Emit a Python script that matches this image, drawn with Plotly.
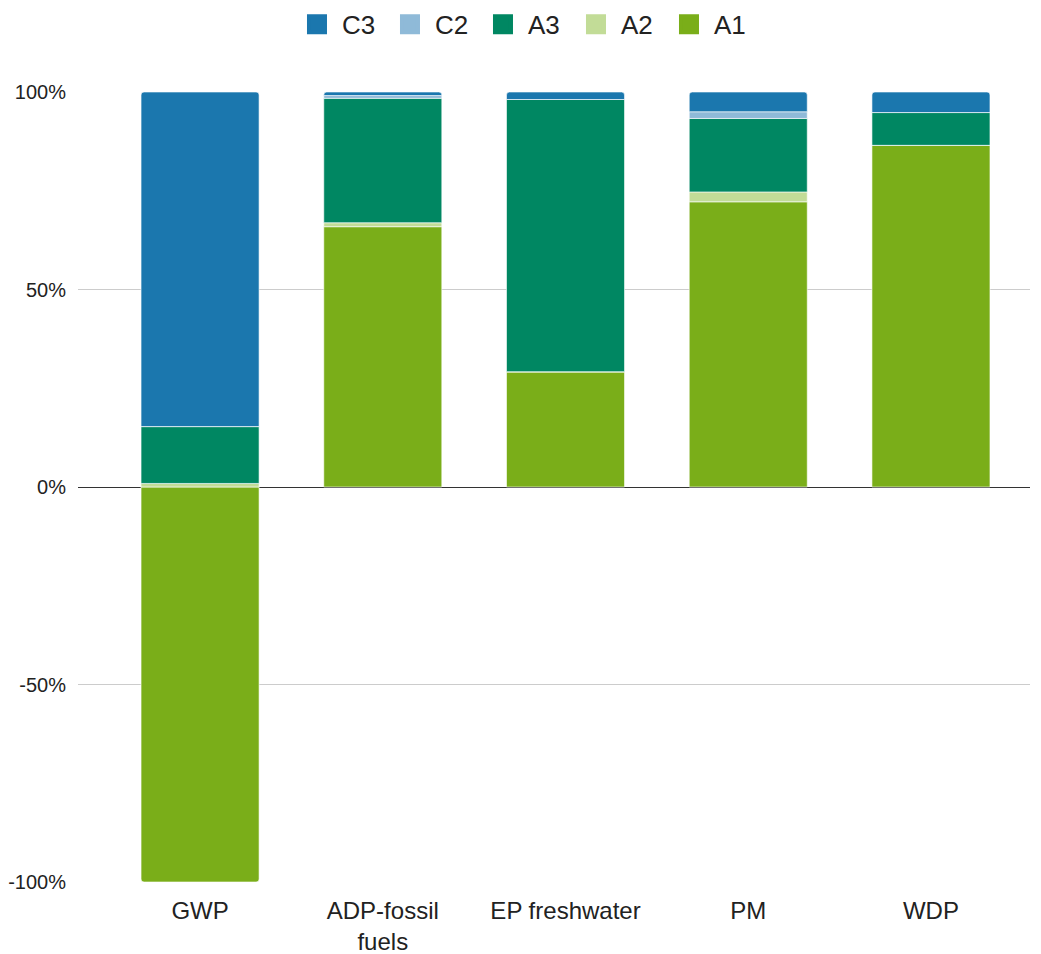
import plotly.graph_objects as go

categories = ["GWP", "ADP-fossil<br>fuels", "EP freshwater", "PM", "WDP"]

# Share of each life-cycle stage per impact category (%)
a1 = [-100.0, 65.9, 29.1, 72.2, 86.5]
a2 = [0.9, 1.0, 0.1, 2.5, 0.0]
a3 = [14.4, 31.5, 68.9, 18.6, 8.3]
c2 = [0.0, 0.7, 0.0, 1.7, 0.0]
c3 = [84.7, 0.9, 1.9, 5.0, 5.2]

series = [
    ("A1", a1, "#7aae19"),
    ("A2", a2, "#c2dc97"),
    ("A3", a3, "#008762"),
    ("C2", c2, "#8fbad8"),
    ("C3", c3, "#1b77ae"),
]

small_font = dict(family="Liberation Sans, Arial, sans-serif", size=20, color="#222222")
cat_font = dict(family="Liberation Sans, Arial, sans-serif", size=24, color="#222222")
legend_font = dict(family="Liberation Sans, Arial, sans-serif", size=26, color="#222222")

fig = go.Figure()
for name, vals, color in series:
    fig.add_trace(go.Bar(
        x=categories,
        y=vals,
        name=name,
        showlegend=False,
        marker=dict(color=color, line=dict(color="rgba(255,255,255,0.6)", width=1)),
        width=0.646,
        hovertemplate="%{x}: %{y:.1f}%<extra>" + name + "</extra>",
    ))

# Legend entries with larger square swatches
for name, vals, color in series:
    fig.add_trace(go.Scatter(
        x=[None],
        y=[None],
        mode="markers",
        name=name,
        marker=dict(symbol="square", size=16, color=color, line=dict(color=color, width=4)),
        showlegend=True,
        hoverinfo="skip",
    ))

fig.update_layout(
    barmode="relative",
    barcornerradius=3,
    width=1041,
    height=954,
    margin=dict(l=78, r=11, t=92, b=72),
    paper_bgcolor="white",
    plot_bgcolor="white",
    font=small_font,
    showlegend=True,
    legend=dict(
        orientation="h",
        x=0.469,
        xanchor="center",
        y=0.999,
        yref="container",
        yanchor="top",
        traceorder="reversed",
        font=legend_font,
        itemwidth=40,
        entrywidth=38,
    ),
    xaxis=dict(
        range=[-0.668, 4.542],
        showgrid=False,
        showline=False,
        ticks="",
        ticklabelstandoff=12,
        tickfont=cat_font,
        automargin=False,
    ),
    yaxis=dict(
        range=[-100, 100],
        tickvals=[-100, -50, 0, 50, 100],
        ticktext=["-100%", "-50%", "0%", "50%", "100%"],
        showgrid=True,
        gridcolor="#cccccc",
        gridwidth=1,
        zeroline=True,
        zerolinecolor="#333333",
        zerolinewidth=1,
        showline=False,
        ticks="",
        ticklabelstandoff=11,
        tickfont=small_font,
        automargin=False,
    ),
)

fig.write_html("out.html")
